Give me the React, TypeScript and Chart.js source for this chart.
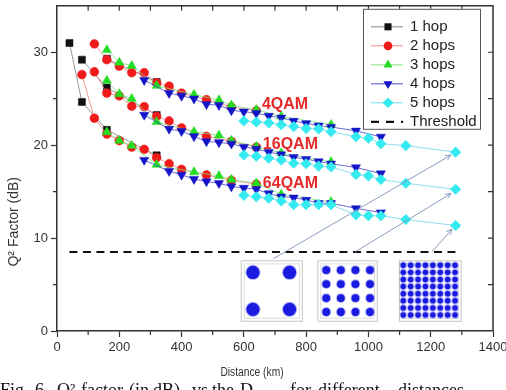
import React, { useEffect, useRef } from 'react';
import { Chart, registerables } from 'chart.js';

Chart.register(...registerables);

// ---------------- data ----------------
const xTickValues = [0, 200, 400, 600, 800, 1000, 1200, 1400];
const yTickValues = [0, 10, 20, 30];
const seriesLabels = ['1 hop', '2 hops', '3 hops', '4 hops', '5 hops'];
const thresholdLabel = 'Threshold';
const formatLabels = ['4QAM', '16QAM', '64QAM'];

const hop1Distance = [40, 80, 160, 320];
const hop1Q4QAM = [null, null, 29.3, 26.8];
const hop1Q16QAM = [null, 29.2, 26.2, 23.25];
const hop1Q64QAM = [31.0, 24.65, 21.65, 18.9];

const hop2Distance = [80, 120, 160, 200, 240, 280, 320, 360, 400, 480, 560, 640];
const hop2Q4QAM = [null, 30.9, 29.2, 28.5, 27.8, 27.8, 26.7, 26.35, 25.6, 24.9, 24.1, 23.7];
const hop2Q16QAM = [null, 27.9, 25.6, 25.3, 24.2, 24.15, 23.1, 22.6, 21.85, 20.95, 20.4, 19.8];
const hop2Q64QAM = [27.6, 22.9, 21.2, 20.5, 19.8, 19.55, 18.65, 18.0, 17.4, 16.8, 16.2, 15.8];

const hop3Distance = [160, 200, 240, 320, 440, 520, 560, 640, 720, 880];
const hop3Q4QAM = [30.25, 28.9, 28.55, 26.4, 25.45, 24.85, 24.3, 23.8, 23.1, 22.2];
const hop3Q16QAM = [26.95, 25.5, 25.0, 22.5, 21.45, 21.05, 20.5, 19.85, 19.15, 18.2];
const hop3Q64QAM = [21.4, 20.5, 19.95, 17.9, 17.1, 16.7, 16.3, 15.9, 14.7, 13.9];

const hop4Distance = [280, 360, 400, 440, 480, 520, 560, 600, 640, 680, 720, 760, 800, 840, 880, 960, 1040];
const hop4Q4QAM = [27.0, 25.6, 25.3, 25.0, 24.4, 24.3, 23.75, 23.6, 23.45, 23.15, 22.95, 22.6, 22.35, 22.1, 21.95, 21.55, 20.9];
const hop4Q16QAM = [23.25, 21.75, 21.5, 20.95, 20.4, 20.3, 20.15, 19.8, 19.6, 19.25, 19.0, 18.7, 18.5, 18.25, 18.0, 17.6, 16.95];
const hop4Q64QAM = [18.4, 17.2, 16.8, 16.35, 16.1, 15.9, 15.55, 15.4, 15.25, 14.8, 14.45, 14.35, 14.1, 13.75, 13.75, 13.2, 12.75];

const hop5Distance = [600, 640, 680, 720, 760, 800, 840, 880, 960, 1000, 1040, 1120, 1280];
const hop5Q4QAM = [22.6, 22.5, 22.4, 22.2, 22.0, 21.8, 21.75, 21.45, 20.9, 20.75, 20.15, 19.95, 19.25];
const hop5Q16QAM = [18.95, 18.8, 18.6, 18.4, 18.05, 18.0, 17.75, 17.65, 16.85, 16.7, 16.3, 15.9, 15.25];
const hop5Q64QAM = [14.6, 14.45, 14.3, 14.0, 13.6, 13.6, 13.6, 13.6, 12.5, 12.4, 12.4, 12.0, 11.35];

const thresholdDistance = [40, 1280];
const thresholdQ = [8.5, 8.5];

const captionWords = ['Fig.', '6.', 'Q²', 'factor', '(in', 'dB)', 'vs', 'the', 'D', 'for', 'different', 'distances'];

// ---------------- styles ----------------
const FONT = "'Liberation Sans', Arial, sans-serif";
const AXIS = '#333333';

type Style = { color: string; line: string; shape: string; radius: number; rotation: number };
const seriesStyles: Style[] = [
  { color: '#111111', line: 'rgba(110,110,110,0.7)', shape: 'rect', radius: 5, rotation: 0 },
  { color: '#f01a1a', line: 'rgba(240,120,120,0.75)', shape: 'circle', radius: 4.4, rotation: 0 },
  { color: '#22dd22', line: 'rgba(120,225,120,0.75)', shape: 'triangle', radius: 5.3, rotation: 0 },
  { color: '#1414c8', line: 'rgba(70,70,200,0.8)', shape: 'triangle', radius: 5.3, rotation: 180 },
  { color: '#33eaf0', line: 'rgba(110,215,235,0.8)', shape: 'rectRot', radius: 5.3, rotation: 0 },
];

const hopSeries = [
  { distance: hop1Distance, bands: [hop1Q4QAM, hop1Q16QAM, hop1Q64QAM] },
  { distance: hop2Distance, bands: [hop2Q4QAM, hop2Q16QAM, hop2Q64QAM] },
  { distance: hop3Distance, bands: [hop3Q4QAM, hop3Q16QAM, hop3Q64QAM] },
  { distance: hop4Distance, bands: [hop4Q4QAM, hop4Q16QAM, hop4Q64QAM] },
  { distance: hop5Distance, bands: [hop5Q4QAM, hop5Q16QAM, hop5Q64QAM] },
];

function buildPoints(distance: number[], bands: (number | null)[][]) {
  const pts: { x: number; y: number | null }[] = [];
  bands.forEach((band) => {
    band.forEach((q, i) => {
      if (q !== null) pts.push({ x: distance[i], y: q });
    });
    pts.push({ x: distance[distance.length - 1], y: null });
  });
  return pts;
}

function drawMarker(ctx: CanvasRenderingContext2D, s: Style, x: number, y: number) {
  const r = s.radius;
  ctx.save();
  ctx.fillStyle = s.color;
  ctx.beginPath();
  if (s.shape === 'rect') {
    const h = r * Math.SQRT1_2;
    ctx.rect(x - h, y - h, 2 * h, 2 * h);
  } else if (s.shape === 'circle') {
    ctx.arc(x, y, r, 0, Math.PI * 2);
  } else if (s.shape === 'triangle') {
    let a = (s.rotation * Math.PI) / 180;
    for (let k = 0; k < 3; k++) {
      const px = x + Math.sin(a) * r;
      const py = y - Math.cos(a) * r;
      if (k === 0) ctx.moveTo(px, py);
      else ctx.lineTo(px, py);
      a += (2 * Math.PI) / 3;
    }
    ctx.closePath();
  } else {
    ctx.moveTo(x, y - r);
    ctx.lineTo(x + r, y);
    ctx.lineTo(x, y + r);
    ctx.lineTo(x - r, y);
    ctx.closePath();
  }
  ctx.fill();
  ctx.restore();
}

// decorative insets (constellations), arrows and labels, in data units
const insets = [
  { x0: 590, x1: 786, yTop: 7.6, yBot: 1.1, n: 2, f0x: 0.2, f1x: 0.8, f0y: 0.2, f1y: 0.81, r: 6.6 },
  { x0: 836, x1: 1027, yTop: 7.6, yBot: 1.1, n: 4, f0x: 0.15, f1x: 0.885, f0y: 0.16, f1y: 0.855, r: 3.9 },
  { x0: 1098, x1: 1296, yTop: 7.6, yBot: 1.1, n: 8, f0x: 0.07, f1x: 0.91, f0y: 0.08, f1y: 0.905, r: 2.7 },
];
const arrows = [
  [694, 7.77, 1265, 18.94],
  [957, 8.51, 1265, 14.79],
  [1204, 8.51, 1268, 10.96],
];
const formatLabelAnchors = [
  [658, 24.4],
  [661, 20.1],
  [661, 15.85],
];
const captionX = [0, 35, 57, 81, 129, 153, 192, 212, 240, 290, 318, 398];

const decorPlugin = {
  id: 'decor',
  beforeDatasetsDraw(chart: any) {
    const { ctx, scales } = chart;
    const xs = scales.x;
    const ys = scales.y;
    ctx.save();
    insets.forEach((ins) => {
      const L = xs.getPixelForValue(ins.x0);
      const R = xs.getPixelForValue(ins.x1);
      const T = ys.getPixelForValue(ins.yTop);
      const B = ys.getPixelForValue(ins.yBot);
      ctx.fillStyle = '#ffffff';
      ctx.fillRect(L, T, R - L, B - T);
      ctx.strokeStyle = '#c4c4c4';
      ctx.lineWidth = 1;
      ctx.strokeRect(L + 0.5, T + 0.5, R - L, B - T);
      ctx.strokeStyle = '#dcdcdc';
      ctx.strokeRect(L + 3.5, T + 3.5, R - L - 6, B - T - 6);
      const W = R - L;
      const H = B - T;
      for (let i = 0; i < ins.n; i++) {
        for (let j = 0; j < ins.n; j++) {
          const fx = ins.f0x + ((ins.f1x - ins.f0x) * i) / (ins.n - 1);
          const fy = ins.f0y + ((ins.f1y - ins.f0y) * j) / (ins.n - 1);
          const cx = L + fx * W;
          const cy = T + fy * H;
          ctx.fillStyle = 'rgba(40,40,235,0.35)';
          ctx.beginPath();
          ctx.arc(cx, cy, ins.r + 1, 0, Math.PI * 2);
          ctx.fill();
          ctx.fillStyle = '#1a1ae0';
          ctx.beginPath();
          ctx.arc(cx, cy, ins.r, 0, Math.PI * 2);
          ctx.fill();
        }
      }
    });
    ctx.restore();
  },
  afterDatasetsDraw(chart: any) {
    const { ctx, scales, chartArea: a } = chart;
    const xs = scales.x;
    const ys = scales.y;
    ctx.save();
    ctx.strokeStyle = 'rgba(125,145,185,0.9)';
    ctx.lineWidth = 1;
    arrows.forEach(([x0, y0, x1, y1]) => {
      const p0x = xs.getPixelForValue(x0);
      const p0y = ys.getPixelForValue(y0);
      const p1x = xs.getPixelForValue(x1);
      const p1y = ys.getPixelForValue(y1);
      ctx.beginPath();
      ctx.moveTo(p0x, p0y);
      ctx.lineTo(p1x, p1y);
      const ang = Math.atan2(p1y - p0y, p1x - p0x);
      const hl = 6;
      ctx.moveTo(p1x, p1y);
      ctx.lineTo(p1x - hl * Math.cos(ang - 0.45), p1y - hl * Math.sin(ang - 0.45));
      ctx.moveTo(p1x, p1y);
      ctx.lineTo(p1x - hl * Math.cos(ang + 0.45), p1y - hl * Math.sin(ang + 0.45));
      ctx.stroke();
    });
    ctx.strokeStyle = AXIS;
    ctx.lineWidth = 1.5;
    ctx.beginPath();
    ctx.moveTo(a.left, a.top);
    ctx.lineTo(a.right, a.top);
    ctx.lineTo(a.right, a.bottom);
    ctx.stroke();
    ctx.lineWidth = 1.2;
    ctx.beginPath();
    for (let v = 100; v < 1400; v += 100) {
      const px = xs.getPixelForValue(v);
      ctx.moveTo(px, a.top);
      ctx.lineTo(px, a.top + 5);
      if (v % 200 !== 0) {
        ctx.moveTo(px, a.bottom);
        ctx.lineTo(px, a.bottom + 4);
      }
    }
    for (let v = 5; v < 35; v += 5) {
      const py = ys.getPixelForValue(v);
      ctx.moveTo(a.right, py);
      ctx.lineTo(a.right - 5, py);
      if (v % 10 !== 0) {
        ctx.moveTo(a.left, py);
        ctx.lineTo(a.left - 4, py);
      }
    }
    ctx.stroke();
    ctx.fillStyle = '#e52a2a';
    ctx.font = `bold 16px ${FONT}`;
    ctx.textAlign = 'left';
    ctx.textBaseline = 'middle';
    formatLabels.forEach((t, i) => {
      const [vx, vy] = formatLabelAnchors[i];
      ctx.fillText(t, xs.getPixelForValue(vx), ys.getPixelForValue(vy));
    });
    ctx.restore();
  },
  afterDraw(chart: any) {
    const { ctx, chartArea: a } = chart;
    ctx.save();
    const bl = a.right - 130;
    const br = a.right - 13;
    const bt = a.top + 3;
    const bb = a.top + 123;
    ctx.fillStyle = '#ffffff';
    ctx.fillRect(bl, bt, br - bl, bb - bt);
    ctx.strokeStyle = '#555555';
    ctx.lineWidth = 1;
    ctx.strokeRect(bl + 0.5, bt + 0.5, br - bl, bb - bt);
    ctx.font = `15px ${FONT}`;
    ctx.textAlign = 'left';
    ctx.textBaseline = 'middle';
    const lx0 = bl + 8;
    const lx1 = bl + 40;
    const mx = bl + 25;
    const tx = bl + 47;
    seriesLabels.forEach((lab, i) => {
      const yy = bt + 18 + i * 19;
      const s = seriesStyles[i];
      ctx.strokeStyle = s.line;
      ctx.lineWidth = 1.2;
      ctx.beginPath();
      ctx.moveTo(lx0, yy);
      ctx.lineTo(lx1, yy);
      ctx.stroke();
      drawMarker(ctx, s, mx, yy);
      ctx.fillStyle = '#222222';
      ctx.fillText(lab, tx, yy);
    });
    const ty = bt + 18 + 5 * 19;
    ctx.strokeStyle = '#111111';
    ctx.lineWidth = 2.2;
    ctx.setLineDash([8, 7]);
    ctx.beginPath();
    ctx.moveTo(lx0, ty);
    ctx.lineTo(lx1, ty);
    ctx.stroke();
    ctx.setLineDash([]);
    ctx.fillStyle = '#222222';
    ctx.fillText(thresholdLabel, tx, ty);

    ctx.fillStyle = '#333333';
    ctx.save();
    ctx.translate(14, a.top + 216);
    ctx.rotate(-Math.PI / 2);
    ctx.font = `14px ${FONT}`;
    ctx.textAlign = 'center';
    ctx.textBaseline = 'middle';
    ctx.fillText('Q² Factor (dB)', 0, 0);
    ctx.restore();

    ctx.save();
    ctx.translate(252, a.bottom + 42);
    ctx.scale(0.82, 1);
    ctx.font = `12.5px ${FONT}`;
    ctx.textAlign = 'center';
    ctx.textBaseline = 'middle';
    ctx.fillText('Distance (km)', 0, 0);
    ctx.restore();

    ctx.fillStyle = '#111111';
    ctx.font = `18px 'Liberation Serif', 'Times New Roman', serif`;
    ctx.textAlign = 'left';
    ctx.textBaseline = 'alphabetic';
    captionWords.forEach((w, i) => ctx.fillText(w, captionX[i], a.bottom + 65));
    ctx.restore();
  },
};

export default function App() {
  const ref = useRef<HTMLCanvasElement>(null);

  useEffect(() => {
    const canvas = ref.current;
    if (!canvas) return;
    Chart.defaults.font.family = FONT;

    const datasets: any[] = hopSeries.map((s, i) => {
      const st = seriesStyles[i];
      return {
        label: seriesLabels[i],
        data: buildPoints(s.distance, s.bands),
        borderColor: st.line,
        borderWidth: 1,
        backgroundColor: st.color,
        pointBackgroundColor: st.color,
        pointBorderColor: st.color,
        pointBorderWidth: 0.5,
        pointStyle: st.shape,
        pointRadius: st.radius,
        pointRotation: st.rotation,
        spanGaps: false,
        tension: 0,
        order: 6 - i,
      };
    });
    datasets.push({
      label: thresholdLabel,
      data: thresholdDistance.map((d, i) => ({ x: d, y: thresholdQ[i] })),
      borderColor: '#111111',
      borderWidth: 2.2,
      borderDash: [8, 5.5],
      pointRadius: 0,
      order: 10,
    });

    const chart = new Chart(canvas, {
      type: 'line',
      data: { datasets },
      plugins: [decorPlugin],
      options: {
        responsive: false,
        animation: false,
        devicePixelRatio: 1,
        events: [],
        layout: { padding: { left: 0, right: 13, top: 2, bottom: 0 } },
        plugins: {
          legend: { display: false },
          tooltip: { enabled: false },
        },
        scales: {
          x: {
            type: 'linear',
            min: 0,
            max: 1400,
            afterBuildTicks: (s: any) => {
              s.ticks = xTickValues.map((v) => ({ value: v }));
            },
            afterFit: (s: any) => {
              s.height = 59;
              s.paddingLeft = 0;
              s.paddingRight = 0;
            },
            grid: { display: true, drawOnChartArea: false, drawTicks: true, tickLength: 6, tickColor: AXIS, tickWidth: 1.2 },
            border: { display: true, color: AXIS, width: 1.5 },
            ticks: { color: '#333333', font: { size: 13 }, padding: 3, maxRotation: 0, autoSkip: false, callback: (v: any) => String(v) },
          },
          y: {
            type: 'linear',
            min: 0,
            max: 35,
            afterBuildTicks: (s: any) => {
              s.ticks = yTickValues.map((v) => ({ value: v }));
            },
            afterFit: (s: any) => {
              s.width = 57;
              s.paddingTop = 0;
              s.paddingBottom = 0;
            },
            grid: { display: true, drawOnChartArea: false, drawTicks: true, tickLength: 6, tickColor: AXIS, tickWidth: 1.2 },
            border: { display: true, color: AXIS, width: 1.5 },
            ticks: { color: '#333333', font: { size: 13 }, padding: 3, autoSkip: false, callback: (v: any) => String(v) },
          },
        },
      } as any,
    });
    return () => chart.destroy();
  }, []);

  return (
    <div style={{ position: 'fixed', left: 0, top: 0, width: 506, height: 390, background: '#ffffff', overflow: 'hidden' }}>
      <canvas ref={ref} width={506} height={390} style={{ display: 'block', width: 506, height: 390 }} />
    </div>
  );
}
